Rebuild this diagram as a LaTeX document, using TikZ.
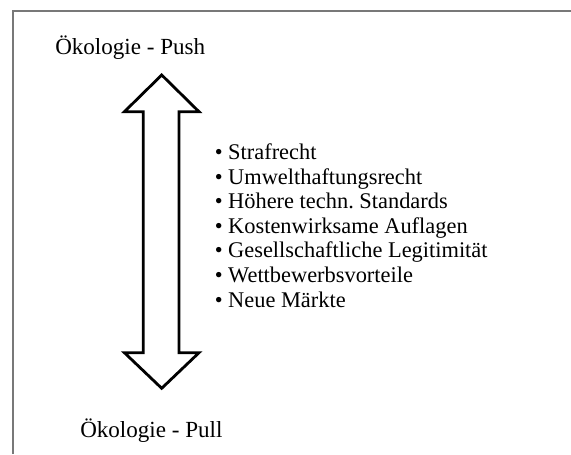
\documentclass[tikz,border=0pt]{standalone}
\usepackage{fontspec}
\setmainfont{Liberation Serif}
\usetikzlibrary{calc}
\frenchspacing
\definecolor{rahmengrau}{RGB}{120,120,120}
\tikzset{
  rahmen/.style={draw=rahmengrau, line width=1.5pt},
  blockpfeil/.style={draw=black, line width=2.1pt, line join=miter, fill=white},
  titel/.style={anchor=base west, inner sep=0pt, font=\fontsize{17.3pt}{20pt}\selectfont},
  listtext/.style={anchor=base west, inner sep=0pt, font=\fontsize{16.8pt}{20pt}\selectfont}
}
\newcommand{\punkt}[3]{\node[listtext] (#1) at (214.5, #2) {• #3};}

\begin{document}
\begin{tikzpicture}[x=0.75pt, y=-0.75pt]
        \useasboundingbox (0,0) rectangle (571,454);
        % frame
        \draw[rahmen] (12.5,454) -- (12.5,11) -- (571,11);

        % labels
        \node[titel] (push) at (55,54) {Ökologie - Push};
        \node[titel] (pull) at (80,437) {Ökologie - Pull};

        % arrow
        \draw[blockpfeil] (161.7,75) -- (199,111.7) -- (179,111.7) -- (179,352.7)
            -- (199,352.7) -- (161.7,388.3) -- (124.4,352.7) -- (143.3,352.7)
            -- (143.3,111.7) -- (124.4,111.7) -- cycle;

        % list
        \punkt{strafrecht}{159.5}{Strafrecht}
        \punkt{haftung}{184.1}{Umwelthaftungsrecht}
        \punkt{standards}{208.7}{Höhere techn. Standards}
        \punkt{auflagen}{233.3}{Kostenwirksame Auflagen}
        \punkt{legitimitaet}{257.9}{Gesellschaftliche Legitimität}
        \punkt{vorteile}{282.5}{Wettbewerbsvorteile}
        \punkt{maerkte}{307.1}{Neue Märkte}
\end{tikzpicture}
\end{document}
